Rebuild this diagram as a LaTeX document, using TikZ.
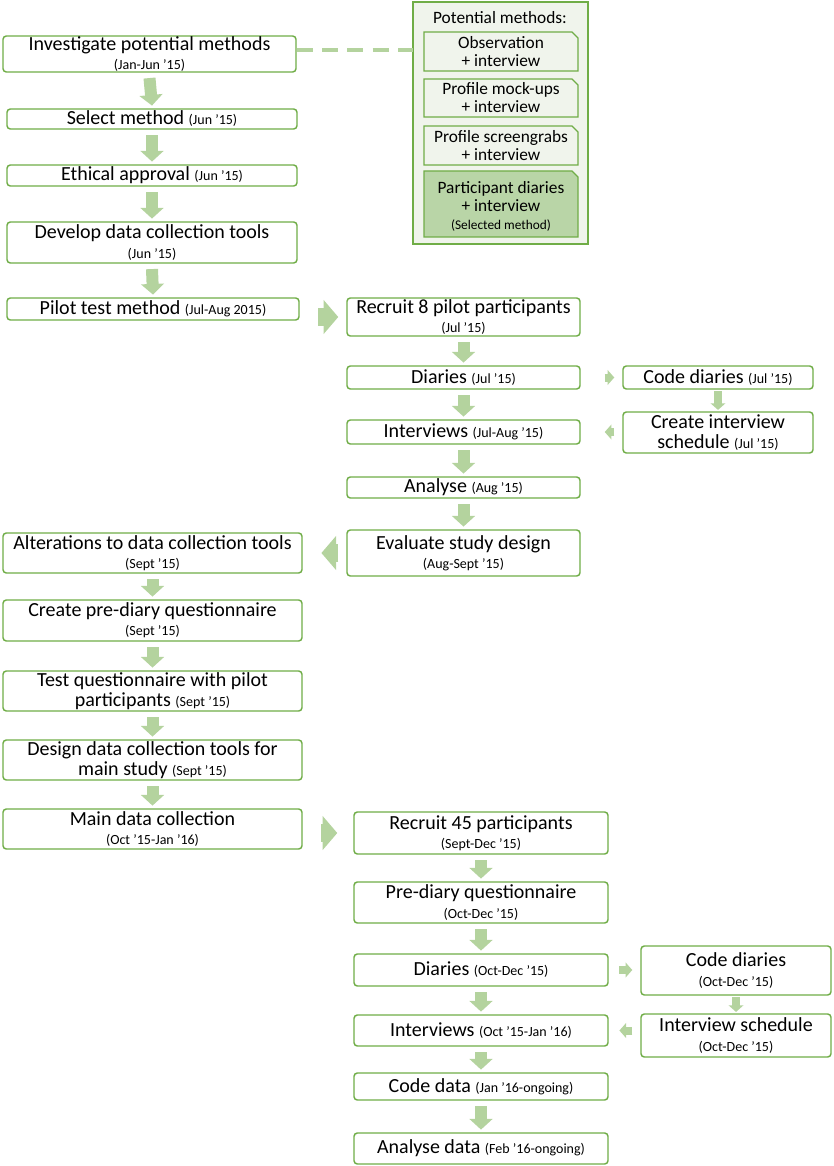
\documentclass[tikz,border=0pt]{standalone}
\usepackage{fontspec}
\setmainfont{Carlito}
\usetikzlibrary{arrows.meta}
\definecolor{gb}{HTML}{70AD47}
\definecolor{ga}{HTML}{B4D39E}
\definecolor{gl}{HTML}{F0F4EC}
\definecolor{gs}{HTML}{B9D5A7}
\newcommand\dt[1]{{\fontsize{10.5}{11.5}\selectfont #1}}
\newcommand\bx[6]{\node[box,minimum width={(#4-#2)*0.75pt},minimum height={(#5-#3)*0.75pt}] (#1) at ({(#2+#4)/2},{(#3+#5)/2}) {#6};}
\newcommand\snip[5]{\draw[sbox,#5] (#1,#2) -- ({#3-6},#2) -- (#3,{#2+6}) -- (#3,#4) -- (#1,#4) -- cycle;}
\begin{document}
\begin{tikzpicture}[x=0.75pt,y=-0.75pt,
  box/.style={draw=gb,line width=1.1pt,rounded corners=2.5pt,fill=white,inner sep=0pt,align=center,font=\fontsize{15}{14.5}\selectfont},
  sbox/.style={draw=gb,line width=1pt,fill=gl},
  arr/.style={ga,line width=9pt,-{Triangle[length=8pt,width=17pt]}},
  barr/.style={ga,line width=13pt,-{Triangle[length=11pt,width=25pt]}},
  sarr/.style={ga,line width=6pt,-{Triangle[length=5pt,width=11pt]}},
  ptxt/.style={align=center,font=\fontsize{13}{13.5}\selectfont,inner sep=0pt}]
\useasboundingbox (0,0) rectangle (834,1166);
% potential methods
\draw[gb,line width=1.1pt,fill=gl] (413,2) rectangle (588,244);
\node[ptxt] (ptitle) at (500,18) {Potential methods:};
\snip{424}{32}{578}{71}{}
\node[ptxt] (m1) at (501,52) {Observation\\+ interview};
\snip{424}{79}{578}{117}{}
\node[ptxt] (m2) at (501,98) {Profile mock-ups\\+ interview};
\snip{424}{126}{578}{165}{}
\node[ptxt] (m3) at (501,145.5) {Profile screengrabs\\+ interview};
\snip{424}{171}{578}{237}{fill=gs}
\node[ptxt] (m4) at (501,206) {Participant diaries\\+ interview\\{\fontsize{10}{11}\selectfont (Selected method)}};
\coordinate (pm) at (413,50);
% boxes
\bx{a1}{3}{36}{296}{72}{Investigate potential methods\\\dt{(Jan-Jun ’15)}}
\bx{a2}{7}{109}{297}{129}{Select method \dt{(Jun ’15)}}
\bx{a3}{7}{165}{297}{186}{Ethical approval \dt{(Jun ’15)}}
\bx{a4}{7}{222}{297}{263}{Develop data collection tools\\\dt{(Jun ’15)}}
\bx{a5}{7}{298}{299}{320}{Pilot test method \dt{(Jul-Aug 2015)}}
\bx{b1}{347}{298}{580}{336}{Recruit 8 pilot participants\\\dt{(Jul ’15)}}
\bx{b2}{347}{366}{580}{389}{Diaries \dt{(Jul ’15)}}
\bx{c1}{623}{366}{813}{389}{Code diaries \dt{(Jul ’15)}}
\bx{c2}{623}{412}{813}{453}{Create interview\\schedule \dt{(Jul ’15)}}
\bx{b3}{347}{420}{580}{444}{Interviews \dt{(Jul-Aug ’15)}}
\bx{b4}{347}{477}{580}{498}{Analyse \dt{(Aug ’15)}}
\bx{b5}{347}{530}{580}{576}{Evaluate study design\\\dt{(Aug-Sept ’15)}}
\bx{d1}{3}{533}{302}{573}{Alterations to data collection tools\\\dt{(Sept ’15)}}
\bx{d2}{3}{600}{302}{641}{Create pre-diary questionnaire\\\dt{(Sept ’15)}}
\bx{d3}{3}{671}{302}{711}{Test questionnaire with pilot\\participants \dt{(Sept ’15)}}
\bx{d4}{3}{740}{302}{780}{Design data collection tools for\\main study \dt{(Sept ’15)}}
\bx{d5}{3}{809}{302}{849}{Main data collection\\\dt{(Oct ’15-Jan ’16)}}
\bx{e1}{354}{812}{608}{854}{Recruit 45 participants\\\dt{(Sept-Dec ’15)}}
\bx{e2}{354}{882}{608}{923}{Pre-diary questionnaire\\\dt{(Oct-Dec ’15)}}
\bx{e3}{354}{954}{608}{986}{Diaries \dt{(Oct-Dec ’15)}}
\bx{f1}{641}{946}{831}{995}{Code diaries\\\dt{(Oct-Dec ’15)}}
\bx{f2}{641}{1014}{831}{1057}{Interview schedule\\\dt{(Oct-Dec ’15)}}
\bx{e4}{354}{1015}{608}{1046}{Interviews \dt{(Oct ’15-Jan ’16)}}
\bx{e5}{354}{1073}{608}{1100}{Code data \dt{(Jan ’16-ongoing)}}
\bx{e6}{354}{1133}{608}{1164}{Analyse data \dt{(Feb ’16-ongoing)}}
% dashed
\draw[ga,line width=2.5pt,dash pattern=on 12pt off 7pt] (a1.east|-pm) -- (pm);
% vertical arrows
\foreach \p/\q in {a1/a2,a2/a3,a3/a4,a4/a5,b1/b2,b2/b3,b3/b4,b4/b5,d1/d2,d2/d3,d3/d4,d4/d5,e1/e2,e2/e3,e3/e4,e4/e5,e5/e6}
  \draw[arr] ([yshift=-4]\p.south) -- ([yshift=2]\q.north);
\draw[sarr] ([yshift=-1]c1.south) -- ([yshift=1]c2.north);
\draw[sarr] ([yshift=-1]f1.south) -- ([yshift=1]f2.north);
% horizontal
\draw[barr] ([xshift=14]a5.east|-b1.center) -- ([xshift=-6]b1.west);
\draw[barr] ([xshift=14]d5.east|-e1.center) -- ([xshift=-12]e1.west);
\draw[barr] ([xshift=-6]b5.west|-d1.center) -- ([xshift=14]d1.east);
\draw[sarr] ([xshift=18]b2.east) -- ([xshift=-6]c1.west);
\draw[sarr] ([xshift=-6]c2.west|-b3.center) -- ([xshift=18]b3.east);
\draw[sarr] ([xshift=8]e3.east|-e3.center) -- ([xshift=-6]f1.west|-e3.center);
\draw[sarr] ([xshift=-6]f2.west|-e4.center) -- ([xshift=8]e4.east);
\end{tikzpicture}
\end{document}
